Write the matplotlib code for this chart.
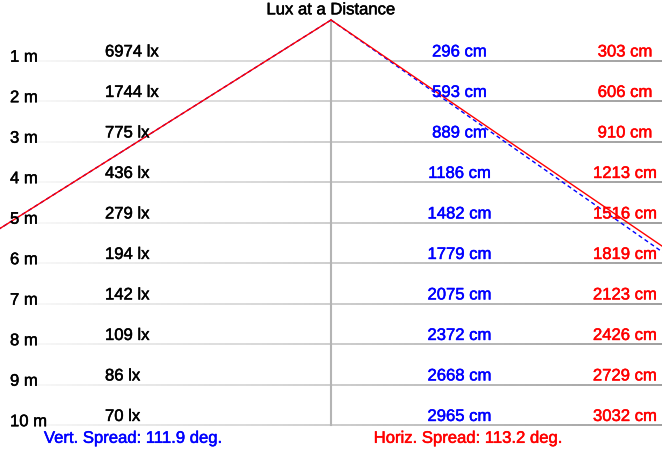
import matplotlib
matplotlib.use("Agg")
import matplotlib.pyplot as plt
import matplotlib.transforms as mtransforms
import matplotlib.patheffects as pe
from matplotlib.collections import LineCollection
import numpy as np

plt.rcParams['font.family'] = ['Liberation Sans', 'DejaVu Sans']

# values
distances_m = [1, 2, 3, 4, 5, 6, 7, 8, 9, 10]
lux = [6974, 1744, 775, 436, 279, 194, 142, 109, 86, 70]
vert_cm = [296, 593, 889, 1186, 1482, 1779, 2075, 2372, 2668, 2965]
horiz_cm = [303, 606, 910, 1213, 1516, 1819, 2123, 2426, 2729, 3032]
vert_spread = 111.9
horiz_spread = 113.2
left_edge_half_deg = 58.7  # left side of the cone as drawn in the picture

W, H = 662, 450
px_y = 40.5          # pixels per metre of distance
px_x = 39.1          # pixels per metre of width
apex_px = 20

fig = plt.figure(figsize=(W / 100, H / 100), dpi=100)
ax = fig.add_axes([0, 0, 1, 1])
ax.set_xlim(-(W / 2) / px_x, (W / 2) / px_x)
ax.set_ylim((H - apex_px) / px_y, -apex_px / px_y)
ax.axis('off')

# horizontal rules, fading to the left
x0 = (35 - W / 2) / px_x
xs = np.linspace(x0, ax.get_xlim()[1], 120)
shade = np.linspace(0.97, 0.62, len(xs) - 1)
for d in distances_m:
    segs = [[(xs[i], d), (xs[i + 1], d)] for i in range(len(xs) - 1)]
    lc = LineCollection(segs, colors=[(s, s, s) for s in shade], linewidths=1.4, zorder=1)
    ax.add_collection(lc)

# centre line
ax.plot([0, 0], [0, distances_m[-1]], color='#b4b4b4', lw=1.5, zorder=1)

# cone edges
d_line = np.array([0, 12.0])
ax.plot(-d_line * np.tan(np.radians(left_edge_half_deg)), d_line, color='blue',
        lw=1, dashes=(3, 2.2), zorder=2)
ax.plot(-d_line * np.tan(np.radians(left_edge_half_deg)), d_line, color='red', lw=1, zorder=3)
ax.plot(d_line * np.tan(np.radians(vert_spread / 2)), d_line, color='blue',
        lw=1, dashes=(3, 2.2), zorder=2)
ax.plot(d_line * np.tan(np.radians(horiz_spread / 2)), d_line, color='red', lw=1, zorder=3)

trans = mtransforms.blended_transform_factory(ax.transAxes, ax.transData)
fs = 12


def label(x, y, s, color='black', ha='left'):
    t = ax.text(x, y, s, transform=trans, fontsize=fs, color=color,
                ha=ha, va='baseline', zorder=5)
    t.set_path_effects([pe.withStroke(linewidth=0.35, foreground=color)])
    return t


for d, l, v, h in zip(distances_m, lux, vert_cm, horiz_cm):
    label(10 / W, d + 0.03, f"{d} m")
    label(105 / W, d - 0.1, f"{l} lx")
    label(459.5 / W, d - 0.1, f"{v} cm", color='blue', ha='center')
    label(625 / W, d - 0.1, f"{h} cm", color='red', ha='center')

label(0.5, -0.14, "Lux at a Distance", ha='center')
label(133 / W, 10.44, f"Vert. Spread: {vert_spread} deg.", color='blue', ha='center')
label(468 / W, 10.44, f"Horiz. Spread: {horiz_spread} deg.", color='red', ha='center')

fig.savefig("out.png", dpi=100, facecolor='white')
